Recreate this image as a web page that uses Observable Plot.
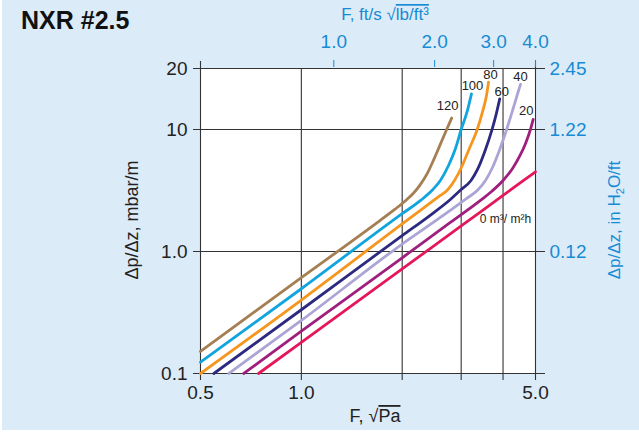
<!DOCTYPE html>
<html><head><meta charset="utf-8">
<script src="https://cdn.jsdelivr.net/npm/d3@7"></script>
<script src="https://cdn.jsdelivr.net/npm/@observablehq/plot@0.6"></script>
<style>
body{margin:0;background:#fff;}
#chart{width:639px;height:439px;}
svg text{font-family:"Liberation Sans",Arial,sans-serif;}
</style></head><body><div id="chart"></div>
<script>
// ---- data ----
const title = "NXR #2.5";
const flows = ["0", "20", "40", "60", "80", "100", "120"];
const flowColors = ["#e5175a", "#9e1f7e", "#aba5d6", "#2c2a80", "#f5961e", "#12a4dd", "#a57f52"];

// F (√Pa) and Δp/Δz (mbar/m) per liquid load (m³/m²h)
const f0   = [0.745, 1.0, 2.0, 3.0, 4.0, 5.0];
const dp0  = [0.10, 0.18, 0.72, 1.62, 2.88, 4.5];
const f20  = [0.673, 1.0, 2.0, 2.785, 3.425, 3.71, 4.0, 4.27, 4.48, 4.67, 4.83, 4.92];
const dp20 = [0.10, 0.222, 0.888, 1.73, 2.62, 3.13, 3.82, 4.79, 6.01, 7.68, 10, 12.1];
const f40  = [0.607, 1.0, 2.0, 2.60, 3.095, 3.35, 3.545, 3.72, 3.90, 4.10, 4.27, 4.40, 4.51];
const dp40 = [0.10, 0.272, 1.15, 1.90, 2.69, 3.16, 3.82, 4.88, 6.73, 10, 14.3, 18.8, 23.4];
const f60  = [0.548, 1.0, 2.0, 2.43, 2.785, 3.0, 3.21, 3.356, 3.52, 3.71, 3.82, 3.91];
const dp60 = [0.10, 0.333, 1.35, 1.99, 2.67, 3.22, 3.82, 4.70, 6.48, 10, 13.5, 17.8];
const f80  = [0.5, 1.0, 2.0, 2.35, 2.60, 2.73, 2.865, 3.005, 3.165, 3.35, 3.47, 3.57, 3.62];
const dp80 = [0.10, 0.40, 1.68, 2.34, 2.88, 3.19, 3.82, 4.88, 6.86, 10, 13.8, 19.0, 24.4];
const f100  = [0.5, 1.0, 2.0, 2.27, 2.46, 2.60, 2.75, 2.885, 3.0, 3.12, 3.22];
const dp100 = [0.124, 0.495, 2.04, 2.62, 3.19, 3.82, 5.07, 6.99, 10, 13.8, 19.6];
const f120  = [0.5, 1.0, 1.72, 1.9, 2.05, 2.16, 2.26, 2.37, 2.48, 2.585, 2.715, 2.81];
const dp120 = [0.152, 0.61, 1.80, 2.21, 2.62, 3.0, 3.5, 4.3, 5.6, 7.3, 10, 12.4];

const fSeries = [f0, f20, f40, f60, f80, f100, f120];
const dpSeries = [dp0, dp20, dp40, dp60, dp80, dp100, dp120];

// axes
const xTicksBottom = [0.5, 1.0, 5.0];
const xTickLabelsBottom = ["0.5", "1.0", "5.0"];
const xGrid = [1, 2, 3, 4];
const topTicks = [1.0, 2.0, 3.0, 4.0];          // F in ft/s √(lb/ft³)
const topTickLabels = ["1.0", "2.0", "3.0", "4.0"];
const topFactor = 1.25;                          // √Pa per ft/s √(lb/ft³), as drawn
const yFrameTop = 31.6;                          // frame top as drawn, labelled "20"
const yTicksLeft = [0.1, 1, 10, yFrameTop];
const yTickLabelsLeft = ["0.1", "1.0", "10", "20"];
const yTicksRight = [1, 10, yFrameTop];
const yTickLabelsRight = ["0.12", "1.22", "2.45"];
const zeroLabel = "0 m³/ m²h";

// ---- layout / style ----
const blue = "#178bd3";
const ink = "#222";
const labelOffsets = [[-30, 47], [-7, -9], [0, -8], [2, -7], [2, -7], [1, -8], [-4, -12]];

const rows = [];
fSeries.forEach((fs, k) => fs.forEach((f, j) => rows.push({flow: flows[k], F: f, dp: dpSeries[k][j]})));
const ends = fSeries.map((fs, k) => ({flow: flows[k], F: fs[fs.length - 1], dp: dpSeries[k][dpSeries[k].length - 1]}));

const mapLabels = (vals, labs) => { const m = new Map(vals.map((v, i) => [v, labs[i]])); return d => m.get(d); };

const labelMarks = ends.map((e, k) => Plot.text([e], {
  x: "F", y: "dp", text: d => k === 0 ? zeroLabel : d.flow,
  dx: labelOffsets[k][0], dy: labelOffsets[k][1],
  fontSize: k === 0 ? 12 : 13, fill: ink
}));

const plot = Plot.plot({
  width: 639, height: 439,
  marginLeft: 200, marginRight: 104, marginTop: 68, marginBottom: 66,
  style: {background: "transparent", fontFamily: "Liberation Sans, Arial, sans-serif", fontSize: "19px", color: ink, overflow: "visible"},
  x: {type: "log", domain: [0.5, 5]},
  y: {type: "log", domain: [0.1, yFrameTop]},
  color: {domain: flows, range: flowColors},
  marks: [
    Plot.frame({fill: "white", stroke: null}),
    Plot.ruleX(xGrid, {stroke: "#333", strokeWidth: 1.1, insetBottom: -7}),
    Plot.ruleX([0.5, 5], {stroke: "#333", strokeWidth: 1.1, insetBottom: -7, insetTop: -7}),
    Plot.ruleY(yTicksLeft, {stroke: "#333", strokeWidth: 1.1, insetLeft: -7, insetRight: -10}),
    Plot.line(rows, {x: "F", y: "dp", stroke: "flow", z: "flow", strokeWidth: 2.8, curve: "monotone-x"}),
    ...labelMarks,
    Plot.axisX({anchor: "bottom", ticks: xTicksBottom, tickSize: 0, tickPadding: 12, tickFormat: mapLabels(xTicksBottom, xTickLabelsBottom), label: null, fontSize: 19}),
    Plot.axisX({anchor: "top", ticks: topTicks.map(v => v * topFactor), tickSize: 7, tickPadding: 12, dy: -2,
      tickFormat: mapLabels(topTicks.map(v => v * topFactor), topTickLabels), label: null, color: blue, fontSize: 19}),
    Plot.axisY({anchor: "left", ticks: yTicksLeft, tickSize: 0, tickPadding: 13, tickFormat: mapLabels(yTicksLeft, yTickLabelsLeft), label: null, fontSize: 19}),
    Plot.axisY({anchor: "right", ticks: yTicksRight, tickSize: 0, tickPadding: 14, tickFormat: mapLabels(yTicksRight, yTickLabelsRight), label: null, color: blue, fontSize: 19})
  ]
});

const svg = d3.select(plot);
svg.insert("rect", ":first-child").attr("x", 2).attr("y", 0).attr("width", 637).attr("height", 430).attr("fill", "#dcebf8");

// title
svg.append("text").attr("x", 21).attr("y", 29).attr("text-anchor", "start").attr("font-size", 25).attr("font-weight", "bold").attr("fill", "#111").text(title);

// bottom axis title: F, √Pa
const bt = svg.append("text").attr("x", 375).attr("y", 422).attr("text-anchor", "middle").attr("font-size", 18).attr("fill", ink);
bt.append("tspan").text("F, √");
bt.append("tspan").style("text-decoration", "overline").text("Pa");

// top axis title: F, ft/s √lb/ft³
const tt = svg.append("text").attr("x", 385).attr("y", 20).attr("text-anchor", "middle").attr("font-size", 17).attr("fill", blue);
tt.append("tspan").text("F, ft/s √");
tt.append("tspan").style("text-decoration", "overline").text("lb/ft³");

// left axis title
svg.append("text").attr("transform", "translate(138,220) rotate(-90)").attr("text-anchor", "middle").attr("font-size", 18).attr("fill", ink).text("Δp/Δz, mbar/m");

// right axis title
const rt = svg.append("text").attr("transform", "translate(620,220) rotate(-90)").attr("text-anchor", "middle").attr("font-size", 17).attr("fill", blue);
rt.append("tspan").text("Δp/Δz, in H");
rt.append("tspan").attr("font-size", 11).attr("dy", 4).text("2");
rt.append("tspan").attr("dy", -4).text("O/ft");

document.getElementById("chart").append(plot);
</script></body></html>
